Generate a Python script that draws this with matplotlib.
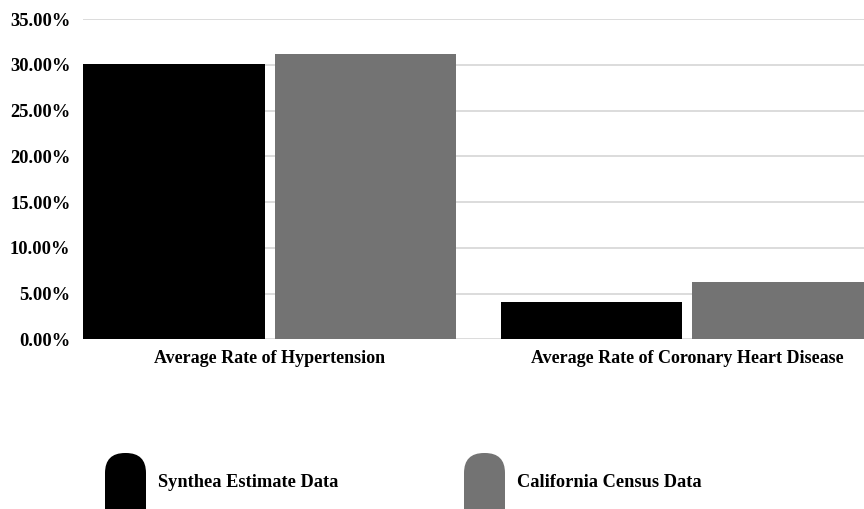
import matplotlib
matplotlib.use("Agg")
import matplotlib.pyplot as plt
from matplotlib.patches import FancyBboxPatch
from matplotlib.ticker import FuncFormatter
import numpy as np

categories = ["Average Rate of Hypertension", "Average Rate of Coronary Heart Disease"]
series_names = ["Synthea Estimate Data", "California Census Data"]
synthea = [30.05, 4.04]
census = [31.2, 6.29]
colors = ["#000000", "#737373"]
yticks = [0, 5, 10, 15, 20, 25, 30, 35]

plt.rcParams["font.family"] = ["Liberation Serif", "DejaVu Serif"]
plt.rcParams["font.weight"] = "bold"

fig = plt.figure(figsize=(8.64, 5.09), dpi=100)
ax = fig.add_axes([83 / 864, 1 - 339.3 / 509, 1 - 83 / 864, (339.3 - 19) / 509])

x = np.arange(len(categories))
w = 0.435
gap = 0.024
ax.bar(x - (w / 2 + gap / 2), synthea, width=w, color=colors[0], zorder=3)
ax.bar(x + (w / 2 + gap / 2), census, width=w, color=colors[1], zorder=3)

ax.set_xlim(-(w + gap / 2), 1.423)
ax.set_ylim(0, 35)
ax.set_yticks(yticks)
ax.yaxis.set_major_formatter(FuncFormatter(lambda v, p: f"{v:.2f}%"))
ax.set_xticks(x)
ax.set_xticklabels(categories, fontsize=13, fontweight="bold")
ax.tick_params(axis="y", length=0, pad=9, labelsize=13.3)
ax.tick_params(axis="x", length=0, pad=8)
for s in ax.spines.values():
    s.set_visible(False)
ax.grid(axis="y", color="#d9d9d9", linewidth=1.3, zorder=0)
ax.set_axisbelow(True)

# legend drawn at the bottom with pill-shaped keys
legend_x = [1.05, 4.64]
text_x = [1.58, 5.17]
for i in range(2):
    p = FancyBboxPatch((legend_x[i] + 0.2, -0.1), 0.01, 0.46,
                       boxstyle="round,pad=0.2",
                       transform=fig.dpi_scale_trans, facecolor=colors[i],
                       edgecolor="none", clip_on=False)
    fig.patches.append(p)
    fig.text(text_x[i], 0.22, series_names[i], transform=fig.dpi_scale_trans,
             fontsize=13.2, fontweight="bold", ha="left", va="baseline")

fig.savefig("out.png", dpi=100)
